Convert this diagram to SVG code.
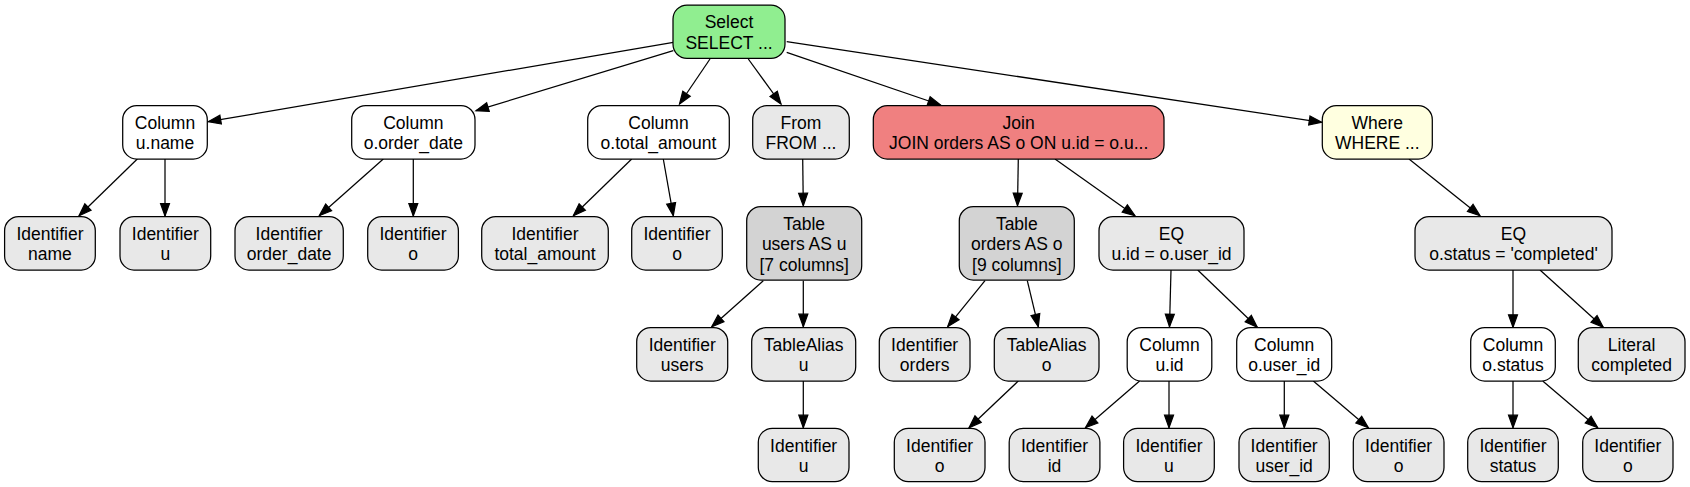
<svg xmlns="http://www.w3.org/2000/svg" width="1690" height="487" viewBox="0 0 1690 487">
<style>
.n rect{stroke:#000;stroke-width:1.25}
.n text{font-family:"Liberation Sans",Arial,sans-serif;font-size:17.5px;text-anchor:middle;fill:#000}
.w rect{fill:#fff}
.g rect{fill:#e8e8e8}
.t rect{fill:#d3d3d3}
.sel rect{fill:#90ee90}
.jn rect{fill:#f08080}
.wh rect{fill:#ffffe0}
#edges path{fill:none;stroke:#000;stroke-width:1.25;marker-end:url(#arr)}
</style>
<defs>
<marker id="arr" markerUnits="userSpaceOnUse" markerWidth="16" markerHeight="12" refX="12.5" refY="5" orient="auto" viewBox="-1 0 16 10">
<path d="M0,0.5 L12.5,5 L0,9.5 z" fill="#000" stroke="#000" stroke-width="1.2"/>
</marker>
</defs>
<rect width="1690" height="487" fill="#fff"/>
<g id="edges">
<path d="M673.3,42.3 L208.3,121.7"/>
<path d="M673.3,50.7 L476,110.7"/>
<path d="M710,59 L679.5,104"/>
<path d="M748.3,59 L781,104"/>
<path d="M786.7,52.3 L940.5,105"/>
<path d="M786.7,41.7 L1321.7,122.3"/>
<path d="M137.3,159 L79,215.7"/>
<path d="M165,159 L165,216"/>
<path d="M383.3,159 L319.3,215.7"/>
<path d="M413.3,159 L413.3,216"/>
<path d="M631.7,159 L573.3,215.7"/>
<path d="M663.3,159 L673.3,215.7"/>
<path d="M802.7,159 L803.3,205.7"/>
<path d="M1018.3,159 L1017.5,205.7"/>
<path d="M1055,159 L1135,215.7"/>
<path d="M1409,159 L1480,215.7"/>
<path d="M763.3,280.7 L711.7,326.7"/>
<path d="M803.3,280.7 L803.3,326.7"/>
<path d="M985,280.7 L947.7,326.7"/>
<path d="M1027.3,280.7 L1038.3,326.7"/>
<path d="M1171,270 L1169.5,326.7"/>
<path d="M1197.7,270 L1257.3,327.3"/>
<path d="M1513,270 L1513,327.3"/>
<path d="M1540,270 L1603.3,327.3"/>
<path d="M803.3,381 L803.3,427.7"/>
<path d="M1018.3,381 L969,427.7"/>
<path d="M1139.6,381 L1085.5,427.7"/>
<path d="M1169,381 L1169,427.7"/>
<path d="M1284.3,381 L1284.3,427.7"/>
<path d="M1313.3,381 L1368.3,427.7"/>
<path d="M1513,381 L1513,427.7"/>
<path d="M1542.7,381 L1597.7,427.7"/>
</g>
<g id="select" class="n sel"><rect x="673" y="5" width="112" height="53.3" rx="14"/><text x="729" y="28.25">Select</text><text x="729" y="48.65">SELECT ...</text></g>
<g id="col_uname" class="n w"><rect x="122.7" y="105.7" width="84.6" height="53.3" rx="14"/><text x="165" y="128.95">Column</text><text x="165" y="149.35">u.name</text></g>
<g id="col_odate" class="n w"><rect x="351.7" y="105.7" width="123.3" height="53.3" rx="14"/><text x="413.35" y="128.95">Column</text><text x="413.35" y="149.35">o.order_date</text></g>
<g id="col_otot" class="n w"><rect x="587.7" y="105.7" width="141.6" height="53.3" rx="14"/><text x="658.5" y="128.95">Column</text><text x="658.5" y="149.35">o.total_amount</text></g>
<g id="from" class="n g"><rect x="752.7" y="105.7" width="96.6" height="53.3" rx="14"/><text x="801" y="128.95">From</text><text x="801" y="149.35">FROM ...</text></g>
<g id="join" class="n jn"><rect x="873.3" y="105.7" width="290.7" height="53.3" rx="14"/><text x="1018.65" y="128.95">Join</text><text x="1018.65" y="149.35">JOIN orders AS o ON u.id = o.u...</text></g>
<g id="where" class="n wh"><rect x="1322.3" y="105.7" width="110" height="53.3" rx="14"/><text x="1377.3" y="128.95">Where</text><text x="1377.3" y="149.35">WHERE ...</text></g>
<g id="id_name" class="n g"><rect x="4.6" y="216.7" width="90.7" height="53.3" rx="14"/><text x="49.95" y="239.95">Identifier</text><text x="49.95" y="260.35">name</text></g>
<g id="id_u1" class="n g"><rect x="120" y="216.7" width="90.7" height="53.3" rx="14"/><text x="165.35" y="239.95">Identifier</text><text x="165.35" y="260.35">u</text></g>
<g id="id_odate" class="n g"><rect x="235" y="216.7" width="108.3" height="53.3" rx="14"/><text x="289.15" y="239.95">Identifier</text><text x="289.15" y="260.35">order_date</text></g>
<g id="id_o1" class="n g"><rect x="367.7" y="216.7" width="90.7" height="53.3" rx="14"/><text x="413.05" y="239.95">Identifier</text><text x="413.05" y="260.35">o</text></g>
<g id="id_tot" class="n g"><rect x="481.7" y="216.7" width="126.6" height="53.3" rx="14"/><text x="545" y="239.95">Identifier</text><text x="545" y="260.35">total_amount</text></g>
<g id="id_o2" class="n g"><rect x="631.7" y="216.7" width="90.6" height="53.3" rx="14"/><text x="677" y="239.95">Identifier</text><text x="677" y="260.35">o</text></g>
<g id="tbl_users" class="n t"><rect x="746.7" y="206.7" width="115" height="73.3" rx="14"/><text x="804.2" y="229.75">Table</text><text x="804.2" y="250.15">users AS u</text><text x="804.2" y="270.55">[7 columns]</text></g>
<g id="tbl_orders" class="n t"><rect x="959.3" y="206.7" width="115" height="73.3" rx="14"/><text x="1016.8" y="229.75">Table</text><text x="1016.8" y="250.15">orders AS o</text><text x="1016.8" y="270.55">[9 columns]</text></g>
<g id="eq1" class="n g"><rect x="1099" y="216.7" width="145" height="53.3" rx="14"/><text x="1171.5" y="239.95">EQ</text><text x="1171.5" y="260.35">u.id = o.user_id</text></g>
<g id="eq2" class="n g"><rect x="1415" y="216.7" width="197" height="53.3" rx="14"/><text x="1513.5" y="239.95">EQ</text><text x="1513.5" y="260.35">o.status = 'completed'</text></g>
<g id="id_users" class="n g"><rect x="636.7" y="327.7" width="91" height="53.3" rx="14"/><text x="682.2" y="350.95">Identifier</text><text x="682.2" y="371.35">users</text></g>
<g id="ta_u" class="n g"><rect x="751.7" y="327.7" width="104" height="53.3" rx="14"/><text x="803.7" y="350.95">TableAlias</text><text x="803.7" y="371.35">u</text></g>
<g id="id_orders" class="n g"><rect x="879.3" y="327.7" width="90.7" height="53.3" rx="14"/><text x="924.65" y="350.95">Identifier</text><text x="924.65" y="371.35">orders</text></g>
<g id="ta_o" class="n g"><rect x="994.3" y="327.7" width="104.7" height="53.3" rx="14"/><text x="1046.65" y="350.95">TableAlias</text><text x="1046.65" y="371.35">o</text></g>
<g id="col_uid" class="n w"><rect x="1127.2" y="327.7" width="84.6" height="53.3" rx="14"/><text x="1169.5" y="350.95">Column</text><text x="1169.5" y="371.35">u.id</text></g>
<g id="col_ouid" class="n w"><rect x="1236.7" y="327.7" width="95" height="53.3" rx="14"/><text x="1284.2" y="350.95">Column</text><text x="1284.2" y="371.35">o.user_id</text></g>
<g id="col_ostatus" class="n w"><rect x="1470.7" y="327.7" width="84.6" height="53.3" rx="14"/><text x="1513" y="350.95">Column</text><text x="1513" y="371.35">o.status</text></g>
<g id="lit" class="n g"><rect x="1578.3" y="327.7" width="106.7" height="53.3" rx="14"/><text x="1631.65" y="350.95">Literal</text><text x="1631.65" y="371.35">completed</text></g>
<g id="id_u2" class="n g"><rect x="758.3" y="428.3" width="90.7" height="53.3" rx="14"/><text x="803.65" y="451.55">Identifier</text><text x="803.65" y="471.95">u</text></g>
<g id="id_o3" class="n g"><rect x="894.3" y="428.3" width="90.7" height="53.3" rx="14"/><text x="939.65" y="451.55">Identifier</text><text x="939.65" y="471.95">o</text></g>
<g id="id_id" class="n g"><rect x="1009.2" y="428.3" width="90.7" height="53.3" rx="14"/><text x="1054.55" y="451.55">Identifier</text><text x="1054.55" y="471.95">id</text></g>
<g id="id_u3" class="n g"><rect x="1123.6" y="428.3" width="90.7" height="53.3" rx="14"/><text x="1168.95" y="451.55">Identifier</text><text x="1168.95" y="471.95">u</text></g>
<g id="id_uid" class="n g"><rect x="1239" y="428.3" width="90.3" height="53.3" rx="14"/><text x="1284.15" y="451.55">Identifier</text><text x="1284.15" y="471.95">user_id</text></g>
<g id="id_o4" class="n g"><rect x="1353.3" y="428.3" width="90.7" height="53.3" rx="14"/><text x="1398.65" y="451.55">Identifier</text><text x="1398.65" y="471.95">o</text></g>
<g id="id_status" class="n g"><rect x="1467.7" y="428.3" width="90.6" height="53.3" rx="14"/><text x="1513" y="451.55">Identifier</text><text x="1513" y="471.95">status</text></g>
<g id="id_o5" class="n g"><rect x="1582.7" y="428.3" width="90.3" height="53.3" rx="14"/><text x="1627.85" y="451.55">Identifier</text><text x="1627.85" y="471.95">o</text></g>
</svg>
